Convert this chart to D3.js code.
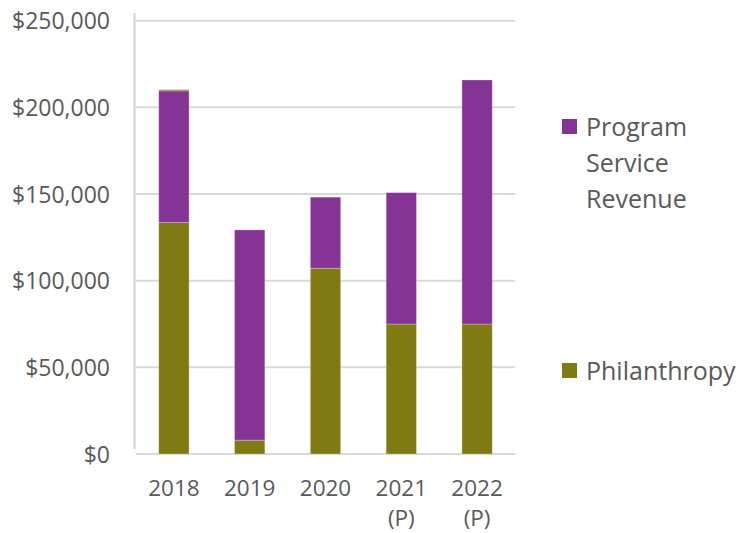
<!DOCTYPE html>
<html>
<head>
<meta charset="utf-8">
<script src="https://cdn.jsdelivr.net/npm/d3@7"></script>
<style>
  body { margin: 0; background: #fff; }
  svg text { font-family: "Open Sans", sans-serif; fill: #595959; }
</style>
</head>
<body>
<svg id="chart" width="743" height="533"></svg>
<script>
// chart values
var years = ["2018", "2019", "2020", "2021 (P)", "2022 (P)"];
var philanthropy = [133500, 8000, 107200, 75000, 75000];
var programRevenue = [76000, 121300, 41000, 75800, 140800];
var other = [700, 0, 0, 0, 0];
var yTicks = [0, 50000, 100000, 150000, 200000, 250000];

var colors = { phil: "#7f7a12", prog: "#863396", other: "#7f7a12" };

var svg = d3.select("#chart");
var plotLeft = 136, plotRight = 515, plotTop = 20.7, plotBottom = 454;

var rows = years.map(function(y, i) {
    return { year: y, phil: philanthropy[i], prog: programRevenue[i], other: other[i] };
});
var keys = ["phil", "prog", "other"];
var stacked = d3.stack().keys(keys)(rows);

var x = d3.scaleBand().domain(years).range([plotLeft, plotRight]).paddingInner(0.6).paddingOuter(0.3);
var y = d3.scaleLinear().domain([0, 250000]).range([plotBottom, plotTop]);

// gridlines
svg.append("g").selectAll("line")
    .data(yTicks)
    .enter().append("line")
    .attr("x1", plotLeft).attr("x2", plotRight)
    .attr("y1", function(d) { return y(d); })
    .attr("y2", function(d) { return y(d); })
    .style("stroke", "#d9d9d9")
    .style("stroke-width", 2);

// left line
svg.append("line")
    .attr("x1", 134.5).attr("x2", 134.5)
    .attr("y1", 13).attr("y2", 449)
    .style("stroke", "#d9d9d9")
    .style("stroke-width", 2.5);

// y axis labels
var yAxis = d3.axisLeft(y).tickValues(yTicks).tickSize(0).tickPadding(0)
    .tickFormat(function(d) { return "$" + d3.format(",")(d); });
var gy = svg.append("g").attr("transform", "translate(110,0)").call(yAxis);
gy.select(".domain").remove();
gy.selectAll("text")
    .style("font-family", "'Open Sans', sans-serif")
    .style("font-size", "23px")
    .style("fill", "#595959")
    .attr("dy", "0.35em");

// bars
svg.append("g").selectAll("g")
    .data(stacked)
    .enter().append("g")
    .attr("fill", function(d) { return colors[d.key]; })
    .selectAll("rect")
    .data(function(d) { return d; })
    .enter().append("rect")
    .attr("x", function(d) { return x(d.data.year); })
    .attr("width", x.bandwidth())
    .attr("y", function(d) { return y(d[1]); })
    .attr("height", function(d) { return y(d[0]) - y(d[1]); })
    .style("stroke", "rgba(255,255,255,0.35)")
    .style("stroke-width", 0.8);

// x labels
var xl = svg.append("g").selectAll("text")
    .data(years)
    .enter().append("text")
    .attr("x", function(d) { return x(d) + x.bandwidth() / 2; })
    .attr("y", 496)
    .attr("text-anchor", "middle")
    .style("font-size", "22.5px");
xl.each(function(d) {
    var parts = d.split(" ");
    var t = d3.select(this);
    parts.forEach(function(p, i) {
        t.append("tspan")
            .attr("x", x(d) + x.bandwidth() / 2)
            .attr("dy", i === 0 ? 0 : 30)
            .text(p);
    });
});

// legend
var legend = [
    { key: "prog", lines: ["Program", "Service", "Revenue"], y: 119 },
    { key: "phil", lines: ["Philanthropy"], y: 363 }
];
var lg = svg.append("g").selectAll("g")
    .data(legend)
    .enter().append("g");
lg.append("rect")
    .attr("x", 562).attr("y", function(d) { return d.y; })
    .attr("width", 15).attr("height", 15)
    .attr("fill", function(d) { return colors[d.key]; });
lg.each(function(d) {
    var g = d3.select(this);
    d.lines.forEach(function(line, i) {
        g.append("text")
            .attr("x", 586)
            .attr("y", d.y + 17 + i * 36)
            .style("font-size", "25px")
            .text(line);
    });
});
</script>
</body>
</html>
